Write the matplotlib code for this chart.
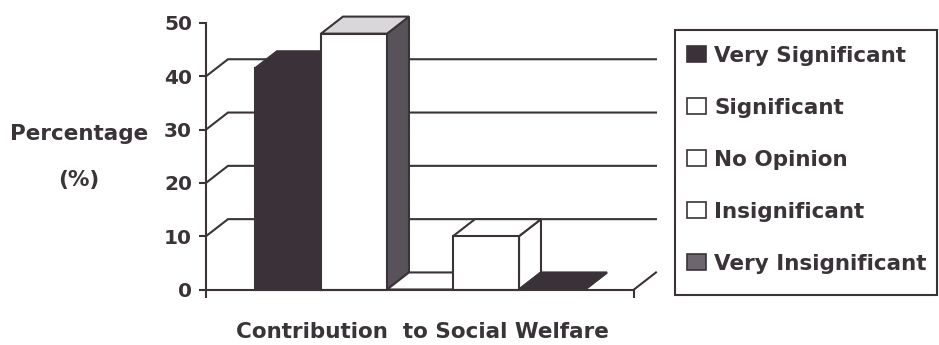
import matplotlib.pyplot as plt
from matplotlib.patches import Polygon, Rectangle

categories = ["Very Significant", "Significant", "No Opinion",
              "Insignificant", "Very Insignificant"]
percentages = [41.5, 48, 0, 10, 0]
y_ticks = [0, 10, 20, 30, 40, 50]
x_label = "Contribution  to Social Welfare"

INK = "#3a3438"
DARK = "#3a3238"
# (front, top, side) colours for each series
faces = [
    (DARK, DARK, DARK),
    ("white", "#dad7da", "#5a525a"),
    ("white", "white", "white"),
    ("white", "white", "white"),
    (DARK, DARK, DARK),
]
legend_fill = [DARK, "white", "white", "white", "#6e666e"]

plt.rcParams["font.family"] = ["DejaVu Sans"]
plt.rcParams["font.weight"] = "bold"

W, H = 939, 345
fig = plt.figure(figsize=(W / 100, H / 100), dpi=100)

# front floor edge runs 206..634 px, value 0 at y=289.5 px and 50 at y=23 px
ax = fig.add_axes([206 / W, (H - 289.5) / H, 428 / W, 266.5 / H])
x_lo, x_hi = -0.742, 5.742
ax.set_xlim(x_lo, x_hi)
ax.set_ylim(0, 50)
DX, DY = 0.333, 3.2  # depth offset of the 3D box

LW = 1.5

# back wall gridlines with their diagonal links to the value axis
for v in y_ticks[1:-1]:
    ax.plot([x_lo, x_lo + DX, x_hi + DX], [v, v + DY, v + DY],
            color=INK, lw=LW, clip_on=False, zorder=1,
            solid_joinstyle="miter")
# right edge of the floor
ax.plot([x_hi, x_hi + DX], [0, DY], color=INK, lw=LW, clip_on=False, zorder=1)

# bars, left to right so each one hides the side of the one before it
for i, v in enumerate(percentages):
    front, top, side = faces[i]
    z = 3 + i
    kw = dict(edgecolor=INK, lw=LW, clip_on=False, zorder=z, joinstyle="miter")
    ax.add_patch(Polygon([(i + 1, 0), (i + 1 + DX, DY), (i + 1 + DX, v + DY), (i + 1, v)],
                         facecolor=side, **kw))
    ax.add_patch(Polygon([(i, v), (i + 1, v), (i + 1 + DX, v + DY), (i + DX, v + DY)],
                         facecolor=top, **kw))
    if v > 0:
        ax.add_patch(Rectangle((i, 0), 1, v, facecolor=front, **kw))

for s in ["top", "right"]:
    ax.spines[s].set_visible(False)
for s in ["left", "bottom"]:
    ax.spines[s].set_color(INK)
    ax.spines[s].set_linewidth(LW)
    ax.spines[s].set_zorder(20)
ax.spines["left"].set_bounds(0, 50)
ax.patch.set_visible(False)

ax.set_yticks(y_ticks)
ax.tick_params(axis="y", length=5, width=LW, color=INK, pad=5,
               labelsize=14.5, labelcolor=INK)
ax.set_xticks([x_lo, x_hi])
ax.set_xticklabels([])
ax.tick_params(axis="x", length=6, width=LW, color=INK)
for lab in ax.get_yticklabels():
    lab.set_fontweight("bold")

# overlay in pixel units for labels and the legend box
ov = fig.add_axes([0, 0, 1, 1])
ov.set_xlim(0, W)
ov.set_ylim(H, 0)
ov.axis("off")

text_kw = dict(color=INK, fontsize=15.5, fontweight="bold")
ov.text(79, 140, "Percentage", ha="center", va="baseline", **text_kw)
ov.text(79, 186, "(%)", ha="center", va="baseline", **text_kw)
ov.text(422, 338, x_label, ha="center", va="baseline", **text_kw)

ov.add_patch(Rectangle((675, 30), 262, 265, facecolor="white",
                       edgecolor=INK, lw=LW))
for k, name in enumerate(categories):
    base = 62 + 52 * k
    ov.add_patch(Rectangle((687, base - 16), 19, 16, facecolor=legend_fill[k],
                           edgecolor=INK, lw=1.2))
    ov.text(714, base, name, ha="left", va="baseline", **text_kw)

fig.savefig("out.png", dpi=100)
